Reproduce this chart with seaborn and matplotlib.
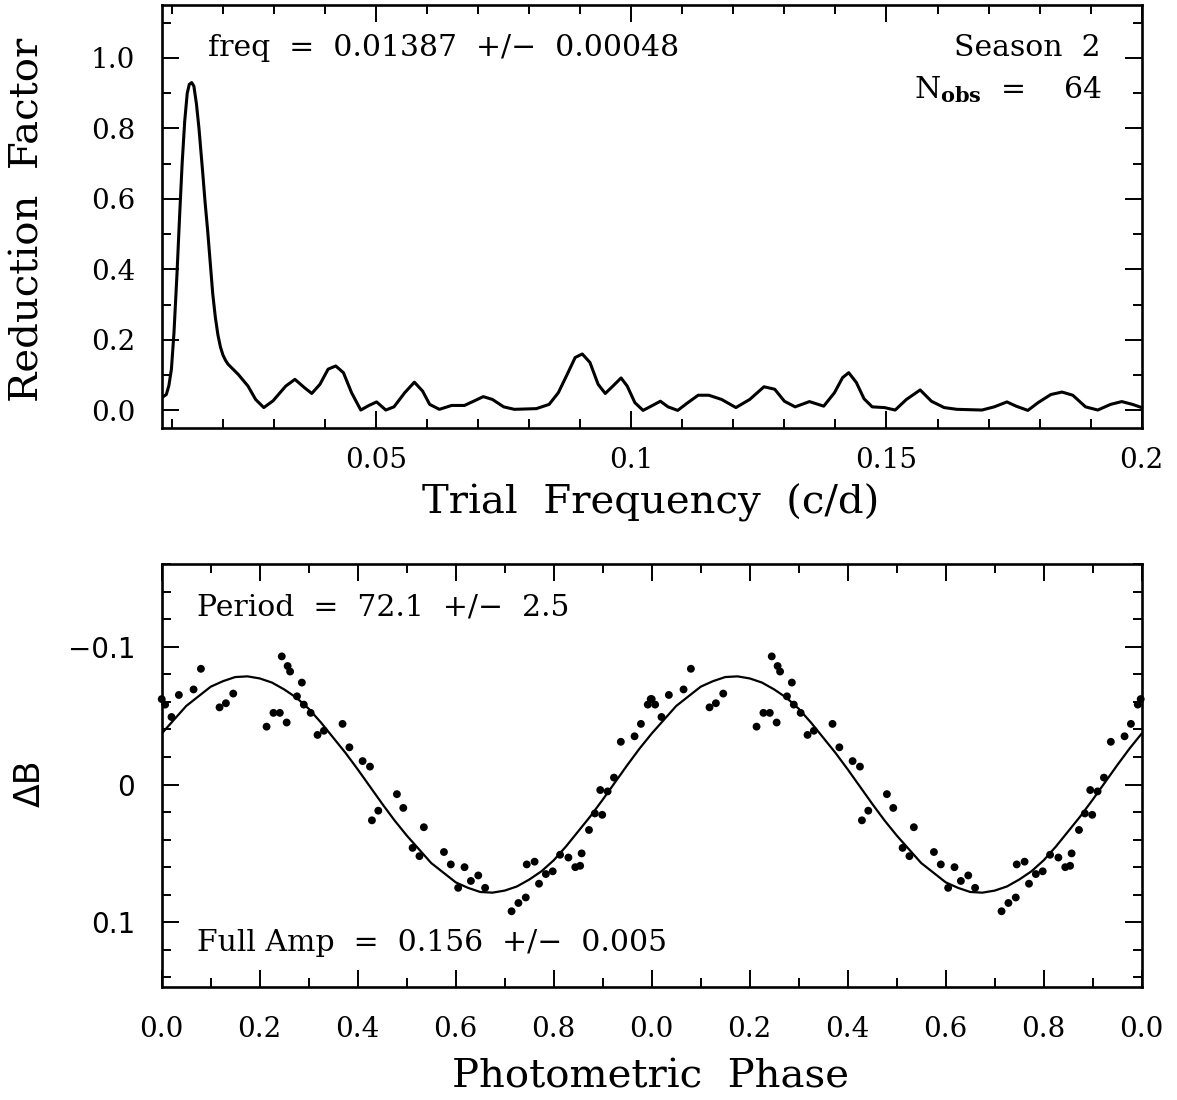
import numpy as np
import pandas as pd
import seaborn as sns
import matplotlib.pyplot as plt
from matplotlib.ticker import MultipleLocator

# periodogram
freq = [0.0080, 0.0089, 0.0094, 0.0099, 0.0104, 0.0110, 0.0115, 0.0120, 0.0125, 0.0130,
        0.0134, 0.01387, 0.0143, 0.0148, 0.0153, 0.0160, 0.0165, 0.0170, 0.0175, 0.0180,
        0.0185, 0.0190, 0.0195, 0.0200, 0.0205, 0.0210, 0.0230, 0.0249, 0.0264, 0.0280,
        0.0298, 0.0323, 0.0341, 0.0360, 0.0374, 0.0390, 0.0406, 0.0421, 0.0436, 0.0452,
        0.0470, 0.0486, 0.0501, 0.0519, 0.0535, 0.0556, 0.0575, 0.0591, 0.0605, 0.0624,
        0.0648, 0.0673, 0.0691, 0.0710, 0.0728, 0.0750, 0.0771, 0.0814, 0.0839, 0.0857,
        0.0876, 0.0890, 0.0904, 0.0919, 0.0935, 0.0949, 0.0964, 0.0980, 0.0992, 0.1007,
        0.1023, 0.1039, 0.1057, 0.1072, 0.1091, 0.1109, 0.1131, 0.1152, 0.1177, 0.1205,
        0.1232, 0.1260, 0.1281, 0.1300, 0.1321, 0.1349, 0.1377, 0.1398, 0.1414, 0.1426,
        0.1441, 0.1456, 0.1472, 0.1496, 0.1517, 0.1539, 0.1566, 0.1588, 0.1613, 0.1638,
        0.1687, 0.1711, 0.1736, 0.1754, 0.1777, 0.1797, 0.1822, 0.1844, 0.1865, 0.1890,
        0.1914, 0.1939, 0.1961, 0.1982, 0.2000]
power = [0.036, 0.045, 0.070, 0.117, 0.220, 0.390, 0.550, 0.700, 0.820, 0.900,
         0.925, 0.930, 0.920, 0.870, 0.800, 0.680, 0.590, 0.510, 0.420, 0.330,
         0.265, 0.215, 0.180, 0.157, 0.142, 0.131, 0.102, 0.069, 0.031, 0.008,
         0.027, 0.069, 0.088, 0.064, 0.048, 0.074, 0.117, 0.126, 0.107, 0.050,
         0.001, 0.014, 0.024, 0.001, 0.010, 0.050, 0.080, 0.055, 0.017, 0.003,
         0.014, 0.014, 0.026, 0.039, 0.031, 0.010, 0.003, 0.005, 0.017, 0.050,
         0.107, 0.150, 0.160, 0.136, 0.074, 0.048, 0.069, 0.092, 0.069, 0.022,
         0.000, 0.012, 0.026, 0.010, 0.000, 0.020, 0.043, 0.043, 0.031, 0.008,
         0.031, 0.067, 0.060, 0.026, 0.010, 0.025, 0.012, 0.050, 0.093, 0.107,
         0.079, 0.033, 0.010, 0.008, 0.001, 0.031, 0.058, 0.026, 0.008, 0.003,
         0.001, 0.010, 0.024, 0.012, 0.000, 0.022, 0.045, 0.052, 0.043, 0.010,
         0.001, 0.017, 0.025, 0.017, 0.008]

# phased photometry, one cycle (drawn again at phase + 1)
phase = [0.000, 0.007, 0.020, 0.035, 0.065, 0.080, 0.118, 0.131, 0.146, 0.214,
         0.228, 0.241, 0.245, 0.255, 0.257, 0.262, 0.276, 0.286, 0.290, 0.304,
         0.318, 0.331, 0.369, 0.383, 0.410, 0.425, 0.429, 0.442, 0.480, 0.493,
         0.512, 0.526, 0.535, 0.576, 0.590, 0.605, 0.618, 0.631, 0.646, 0.660,
         0.714, 0.728, 0.743, 0.745, 0.761, 0.770, 0.784, 0.798, 0.813, 0.830,
         0.844, 0.854, 0.857, 0.872, 0.884, 0.899, 0.895, 0.910, 0.923, 0.937,
         0.965, 0.978, 0.992, 0.998]
delta_b = [-0.062, -0.058, -0.049, -0.065, -0.069, -0.084, -0.056, -0.059, -0.066, -0.042,
           -0.052, -0.052, -0.093, -0.045, -0.086, -0.082, -0.064, -0.074, -0.058, -0.052,
           -0.036, -0.039, -0.044, -0.027, -0.017, -0.013, 0.026, 0.019, 0.007, 0.017,
           0.046, 0.052, 0.031, 0.049, 0.058, 0.075, 0.060, 0.070, 0.066, 0.075,
           0.092, 0.086, 0.082, 0.058, 0.056, 0.072, 0.065, 0.063, 0.051, 0.053,
           0.060, 0.059, 0.050, 0.033, 0.021, 0.022, 0.004, 0.005, -0.005, -0.031,
           -0.035, -0.044, -0.058, -0.062]

# fitted light curve, read at steps of 0.025 in phase over one cycle
fit_phase = [0.000, 0.025, 0.050, 0.075, 0.100, 0.125, 0.150, 0.175, 0.200, 0.225,
             0.250, 0.275, 0.300, 0.325, 0.350, 0.375, 0.400, 0.425, 0.450, 0.475,
             0.500, 0.525, 0.550, 0.575, 0.600, 0.625, 0.650, 0.675, 0.700, 0.725,
             0.750, 0.775, 0.800, 0.825, 0.850, 0.875, 0.900, 0.925, 0.950, 0.975, 1.000]
fit_db = [-0.037, -0.047, -0.057, -0.064, -0.071, -0.075, -0.078, -0.0785, -0.077, -0.074,
          -0.069, -0.063, -0.055, -0.045, -0.034, -0.023, -0.011, 0.0015, 0.014, 0.026,
          0.037, 0.047, 0.057, 0.064, 0.071, 0.075, 0.078, 0.0785, 0.077, 0.074,
          0.069, 0.063, 0.055, 0.045, 0.034, 0.023, 0.011, -0.0015, -0.014, -0.026, -0.037]

top_xticks = [0.05, 0.1, 0.15, 0.2]
top_xticklabels = ['0.05', '0.1', '0.15', '0.2']
top_yticks = [0.0, 0.2, 0.4, 0.6, 0.8, 1.0]
top_yticklabels = ['0.0', '0.2', '0.4', '0.6', '0.8', '1.0']
bot_xticks = [0.0, 0.2, 0.4, 0.6, 0.8, 1.0, 1.2, 1.4, 1.6, 1.8, 2.0]
bot_xticklabels = ['0.0', '0.2', '0.4', '0.6', '0.8', '0.0', '0.2', '0.4', '0.6', '0.8', '0.0']
bot_yticks = [-0.1, 0.0, 0.1]
bot_yticklabels = ['\u22120.1', '0', '0.1']

sns.set_theme(style='white')
plt.rcParams['font.family'] = ['DejaVu Serif']
plt.rcParams['mathtext.fontset'] = 'dejavuserif'
plt.rcParams['text.color'] = 'black'
plt.rcParams['xtick.color'] = 'black'
plt.rcParams['ytick.color'] = 'black'

pgram = pd.DataFrame({'freq': freq, 'power': power})
obs = pd.DataFrame({'phase': phase + [p + 1 for p in phase],
                    'dB': delta_b + delta_b})
fit = pd.DataFrame({'phase': fit_phase + [p + 1 for p in fit_phase[1:]],
                    'dB': fit_db + fit_db[1:]})

fig = plt.figure(figsize=(11.77, 11.0), dpi=100)
ax1 = fig.add_axes([0.1374, 0.6109, 0.8326, 0.3845])
ax2 = fig.add_axes([0.1374, 0.1027, 0.8326, 0.3845])

tick_fs = 20
note_fs = 21.5
label_fs = 29


def style_axes(ax):
    for s in ax.spines.values():
        s.set_linewidth(1.9)
        s.set_color('black')
    ax.tick_params(which='both', direction='in', top=True, right=True,
                   bottom=True, left=True, color='black', width=1.4,
                   labelcolor='black')
    ax.tick_params(which='major', length=12)
    ax.tick_params(which='minor', length=6.5)
    ax.set_xlabel('')
    ax.set_ylabel('')


# top panel: periodogram
sns.lineplot(data=pgram, x='freq', y='power', ax=ax1, color='black',
             linewidth=2.2, estimator=None, sort=False)
ax1.set_xlim(0.008, 0.2)
ax1.set_ylim(-0.05, 1.15)
ax1.set_xticks(top_xticks)
ax1.set_xticklabels(top_xticklabels, fontsize=tick_fs)
ax1.set_yticks(top_yticks)
ax1.set_yticklabels(top_yticklabels, fontsize=tick_fs)
ax1.xaxis.set_minor_locator(MultipleLocator(0.01))
ax1.yaxis.set_minor_locator(MultipleLocator(0.1))
style_axes(ax1)
ax1.tick_params(axis='x', which='major', pad=14)
ax1.tick_params(axis='y', which='major', pad=19)

ax1.text(0.047, 0.898, 'freq  =  0.01387  +/\u2212  0.00048', transform=ax1.transAxes,
         fontsize=note_fs, ha='left', va='center')
ax1.text(0.9575, 0.898, 'Season  2', transform=ax1.transAxes,
         fontsize=note_fs, ha='right', va='center')
ax1.text(0.9597, 0.80, r'N$_{\mathbf{obs}}$  =    64', transform=ax1.transAxes,
         fontsize=note_fs, ha='right', va='center')

# bottom panel: phased light curve
sns.lineplot(data=fit, x='phase', y='dB', ax=ax2, color='black',
             linewidth=1.6, estimator=None, sort=False)
sns.scatterplot(data=obs, x='phase', y='dB', ax=ax2, color='black', s=32,
                edgecolor='none', clip_on=False, zorder=3)
ax2.set_xlim(0.0, 2.0)
ax2.set_ylim(0.147, -0.16)
ax2.set_xticks(bot_xticks)
ax2.set_xticklabels(bot_xticklabels, fontsize=tick_fs)
ax2.set_yticks(bot_yticks)
ax2.set_yticklabels(bot_yticklabels, fontsize=tick_fs, family='DejaVu Sans')
ax2.xaxis.set_minor_locator(MultipleLocator(0.1))
ax2.yaxis.set_minor_locator(MultipleLocator(0.02))
style_axes(ax2)
ax2.tick_params(axis='x', which='major', pad=21)
ax2.tick_params(axis='y', which='major', pad=19)

ax2.text(0.036, 0.898, 'Period  =  72.1  +/\u2212  2.5', transform=ax2.transAxes,
         fontsize=note_fs, ha='left', va='center')
ax2.text(0.036, 0.104, 'Full Amp  =  0.156  +/\u2212  0.005', transform=ax2.transAxes,
         fontsize=note_fs, ha='left', va='center')

# axis titles
fig.text(28 / 1177, 1 - 220 / 1100, 'Reduction  Factor', rotation=90,
         fontsize=label_fs, ha='center', va='center')
fig.text(651 / 1177, 1 - 503 / 1100, 'Trial  Frequency  (c/d)',
         fontsize=label_fs, ha='center', va='center')
fig.text(30 / 1177, 1 - 783 / 1100, '\u0394B', rotation=90, family='DejaVu Sans',
         fontsize=25, ha='center', va='center')
fig.text(651 / 1177, 1 - 1077 / 1100, 'Photometric  Phase',
         fontsize=label_fs, ha='center', va='center')

fig.savefig('out.png', dpi=100)
